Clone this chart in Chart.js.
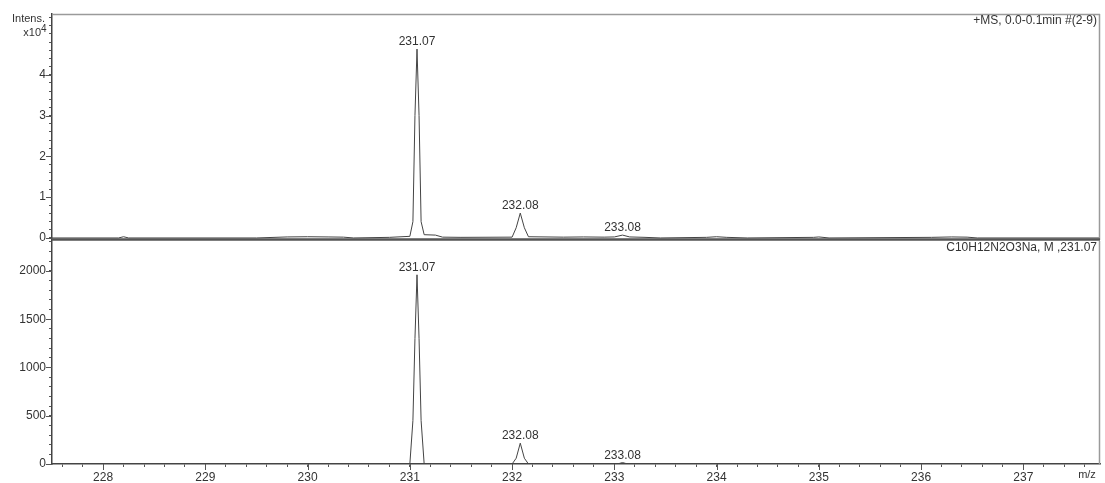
<!DOCTYPE html>
<html>
<head>
<meta charset="utf-8">
<script src="https://cdn.jsdelivr.net/npm/chart.js@4"></script>
<style>
  body { margin: 0; background: #fff; }
  #wrap { position: relative; width: 1105px; height: 483px; }
  .box { position: absolute; left: 0; width: 1105px; }
</style>
</head>
<body>
<div id="wrap">
  <div class="box" style="top:0;height:242px"><canvas id="top"></canvas></div>
  <div class="box" style="top:241px;height:242px"><canvas id="bottom"></canvas></div>
</div>
<script>
// measured spectrum (+MS, 0.0-0.1min)
const topMz = [227.5, 228.15, 228.2, 228.25, 229.5, 229.8, 230.0, 230.2, 230.35, 230.45, 230.8,
  231.0, 231.03, 231.05, 231.07, 231.09, 231.11, 231.14, 231.25, 231.32, 231.5, 232.0,
  232.04, 232.08, 232.12, 232.16, 232.5, 232.7, 232.9, 233.0, 233.08, 233.15, 233.3, 233.45,
  233.9, 234.0, 234.1, 234.3, 234.95, 235.0, 235.1, 236.1, 236.3, 236.45, 236.55, 237.75];
const topIntensity = [0, 0, 300, 0, 0, 250, 300, 250, 200, 0, 150,
  400, 4000, 30000, 46300, 30000, 4000, 800, 700, 200, 150, 200,
  2500, 6100, 2500, 300, 200, 250, 200, 250, 700, 250, 150, 0,
  150, 300, 150, 0, 150, 250, 0, 150, 250, 200, 0, 0];

// simulated isotope pattern C10H12N2O3Na
const simMz = [227.5, 231.0, 231.03, 231.05, 231.07, 231.09, 231.11, 231.14,
  232.0, 232.04, 232.08, 232.12, 232.16, 233.03, 233.08, 233.13, 237.75];
const simIntensity = [0, 0, 450, 1300, 1960, 1300, 450, 0,
  0, 60, 216, 60, 0, 0, 15, 0, 0];

const peakLabels = ['231.07', '232.08', '233.08'];
const xTicks = [228, 229, 230, 231, 232, 233, 234, 235, 236, 237];
const topYTicks = [0, 10000, 20000, 30000, 40000];   // shown as 0..4 (x10^4)
const simYTicks = [0, 500, 1000, 1500, 2000];

const FONT = { family: 'Liberation Sans, Arial, sans-serif', size: 12 };
const INK = '#333';

// minor ticks on every multiple of step inside the axis range
function stepTicks(step) {
  return scale => {
    const out = [];
    const lo = Math.ceil(Math.max(scale.min, 0) / step - 1e-9);
    const hi = Math.floor(scale.max / step + 1e-9);
    for (let k = lo; k <= hi; k++) out.push({ value: Math.round(k * step * 1000) / 1000 });
    scale.ticks = out;
  };
}

const isIn = (list, v) => list.some(t => Math.abs(t - v) < 1e-6);

function toPoints(xs, ys) {
  return xs.map((x, i) => ({ x: x, y: ys[i] }));
}

const peakText = {
  id: 'peakText',
  afterDatasetsDraw(chart) {
    const { ctx, scales } = chart;
    const pts = chart.data.datasets[0].data;
    ctx.save();
    ctx.font = '12px ' + FONT.family;
    ctx.fillStyle = INK;
    ctx.textAlign = 'center';
    ctx.textBaseline = 'bottom';
    peakLabels.forEach(lbl => {
      const mz = parseFloat(lbl);
      const p = pts.find(d => Math.abs(d.x - mz) < 1e-6);
      if (!p) return;
      ctx.fillText(lbl, scales.x.getPixelForValue(mz), scales.y.getPixelForValue(p.y) - 1);
    });
    ctx.restore();
  }
};

// longer tick marks at the labelled values
const majorTicks = {
  id: 'majorTicks',
  afterDraw(chart, args, opts) {
    const { ctx, scales, chartArea: a } = chart;
    ctx.save();
    ctx.strokeStyle = '#555';
    ctx.lineWidth = 1;
    ctx.beginPath();
    opts.y.forEach(v => {
      const py = Math.round(scales.y.getPixelForValue(v)) + 0.5;
      ctx.moveTo(a.left - 6, py); ctx.lineTo(a.left, py);
    });
    (opts.x || []).forEach(v => {
      const px = Math.round(scales.x.getPixelForValue(v)) + 0.5;
      ctx.moveTo(px, a.bottom); ctx.lineTo(px, a.bottom + 6);
    });
    ctx.stroke();
    ctx.restore();
  }
};

const frame = {
  id: 'frame',
  afterDraw(chart, args, opts) {
    const { ctx, chartArea: a } = chart;
    ctx.save();
    ctx.font = '12px ' + FONT.family;
    ctx.fillStyle = INK;
    ctx.strokeStyle = '#9a9a9a';
    ctx.lineWidth = 1.5;
    ctx.beginPath();
    if (opts.top) { ctx.moveTo(a.left, a.top + 0.5); ctx.lineTo(a.right, a.top + 0.5); }
    ctx.moveTo(a.right - 0.5, a.top); ctx.lineTo(a.right - 0.5, a.bottom);
    ctx.stroke();
    if (opts.base) {
      ctx.strokeStyle = '#555';
      ctx.lineWidth = 2.5;
      ctx.beginPath();
      ctx.moveTo(a.left, a.bottom - 0.5); ctx.lineTo(a.right, a.bottom - 0.5);
      ctx.stroke();
    }
    ctx.textAlign = 'right';
    ctx.textBaseline = 'middle';
    ctx.fillText(opts.title, a.right - 3, a.top + 7);
    if (opts.intens) {
      ctx.font = '11px ' + FONT.family;
      ctx.fillText('Intens.', 45, 19);
      ctx.fillText('x10', 41, 33);
      ctx.font = '10px ' + FONT.family;
      ctx.textAlign = 'left';
      ctx.fillText('4', 41, 29);
    }
    if (opts.mz) {
      ctx.font = '11px ' + FONT.family;
      ctx.textAlign = 'center';
      ctx.textBaseline = 'top';
      ctx.fillText('m/z', 1087, a.bottom + 5);
    }
    ctx.restore();
  }
};

function makeChart(id, xs, ys, cfg) {
  return new Chart(document.getElementById(id), {
    type: 'scatter',
    data: {
      datasets: [{
        data: toPoints(xs, ys),
        showLine: true,
        borderColor: '#444',
        borderWidth: 1,
        pointRadius: 0,
        tension: 0
      }]
    },
    options: {
      responsive: true,
      maintainAspectRatio: false,
      animation: false,
      events: [],
      layout: { padding: cfg.padding },
      plugins: {
        legend: { display: false },
        tooltip: { enabled: false },
        frame: cfg.frame,
        majorTicks: { y: cfg.yTicks, x: cfg.showX ? xTicks : [] }
      },
      scales: {
        x: {
          type: 'linear',
          min: 227.5,
          max: 237.75,
          display: cfg.showX,
          afterFit: s => {
            if (cfg.showX) s.height = 19;
            s.paddingLeft = 0; s.paddingRight = 0;
          },
          afterBuildTicks: stepTicks(0.2),
          border: { color: '#444', width: 1.5 },
          grid: { drawOnChartArea: false, tickLength: 3, color: '#555' },
          ticks: {
            autoSkip: false,
            maxRotation: 0,
            padding: 3,
            color: INK,
            font: FONT,
            callback: v => isIn(xTicks, v) ? String(Math.round(v)) : ''
          }
        },
        y: {
          min: cfg.yMin,
          max: cfg.yMax,
          afterFit: s => { s.width = 52; s.paddingTop = 0; s.paddingBottom = 0; },
          afterBuildTicks: stepTicks(cfg.yStep),
          border: { color: '#444', width: 1.5 },
          grid: { drawOnChartArea: false, tickLength: 3, color: '#555' },
          ticks: {
            autoSkip: false,
            padding: 3,
            color: INK,
            font: FONT,
            callback: v => isIn(cfg.yTicks, v) ? String(Math.round(v) / cfg.yDiv) : ''
          }
        }
      }
    },
    plugins: [peakText, majorTicks, frame]
  });
}

makeChart('top', topMz, topIntensity, {
  padding: { left: 0, right: 5, top: 14, bottom: 2 },
  showX: false,
  yMin: -500,
  yMax: 54900,
  yStep: 2000,
  yTicks: topYTicks,
  yDiv: 10000,
  frame: { top: true, base: true, intens: true, title: '+MS, 0.0-0.1min #(2-9)' }
});

makeChart('bottom', simMz, simIntensity, {
  padding: { left: 0, right: 5, top: 0, bottom: 0 },
  showX: true,
  yMin: 0,
  yMax: 2310,
  yStep: 100,
  yTicks: simYTicks,
  yDiv: 1,
  frame: { top: false, base: false, mz: true, title: 'C10H12N2O3Na, M ,231.07' }
});
</script>
</body>
</html>
